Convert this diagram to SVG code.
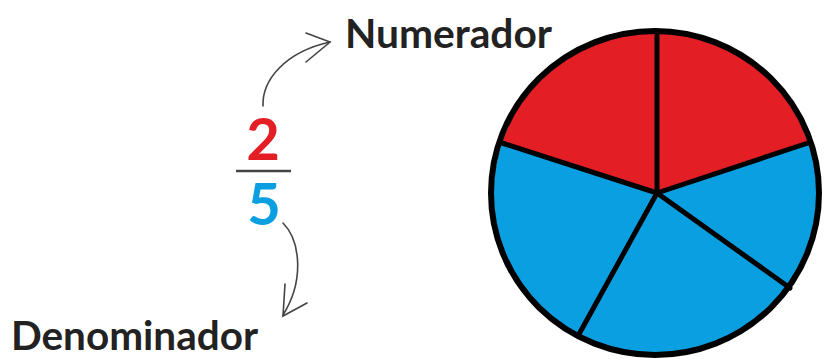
<svg xmlns="http://www.w3.org/2000/svg" width="825" height="364" viewBox="0 0 825 364">
<style>
.lbl{font-family:Lato,"Open Sans","Liberation Sans",sans-serif;font-weight:bold;font-size:41px;fill:#222;}
.num{font-family:Lato,"Open Sans","Liberation Sans",sans-serif;font-weight:bold;font-size:58px;text-anchor:middle;}
.conn{fill:none;stroke:#444;stroke-width:1.6;stroke-linecap:round;}
.sp{stroke:#000;stroke-width:5;stroke-linecap:round;}
</style>
<rect width="825" height="364" fill="#fff"/>
<g id="numerador"><text class="lbl" x="345" y="48" textLength="207" lengthAdjust="spacingAndGlyphs">Numerador</text></g>
<g id="denominador"><text class="lbl" x="11" y="350" textLength="247" lengthAdjust="spacingAndGlyphs">Denominador</text></g>
<g id="fraction">
<text class="num" x="263" y="160" fill="#E31E24">2</text>
<line x1="236" y1="171" x2="291" y2="171" stroke="#444" stroke-width="2.5"/>
<text class="num" x="264" y="225" fill="#0A9FE0">5</text>
</g>
<g id="connectors">
<path class="conn" d="M263,106 C262,80 285,52 330,42"/>
<path class="conn" d="M306,33 L330,42 L306,62"/>
<path class="conn" d="M283,223 C300,240 305,280 283,315"/>
<path class="conn" d="M285,284 L283,316 L307,303"/>
</g>
<g id="pie">
<path d="M657,193 L657,31 A164,162 0 0 1 808,143 Z" fill="#E31E24"/>
<path d="M657,193 L657,31 A164,162 0 0 0 502,143 Z" fill="#E31E24"/>
<path d="M657,193 L808,143 A164,162 0 0 1 790,288 Z" fill="#0A9FE0"/>
<path d="M657,193 L790,288 A164,162 0 0 1 578,336 Z" fill="#0A9FE0"/>
<path d="M657,193 L578,336 A164,162 0 0 1 502,143 Z" fill="#0A9FE0"/>
<line class="sp" x1="657" y1="193" x2="657" y2="31"/>
<line class="sp" x1="657" y1="193" x2="808" y2="143"/>
<line class="sp" x1="657" y1="193" x2="790" y2="288"/>
<line class="sp" x1="657" y1="193" x2="578" y2="336"/>
<line class="sp" x1="657" y1="193" x2="502" y2="143"/>
<ellipse cx="655" cy="193" rx="164" ry="162" fill="none" stroke="#000" stroke-width="6"/>
</g>
</svg>
